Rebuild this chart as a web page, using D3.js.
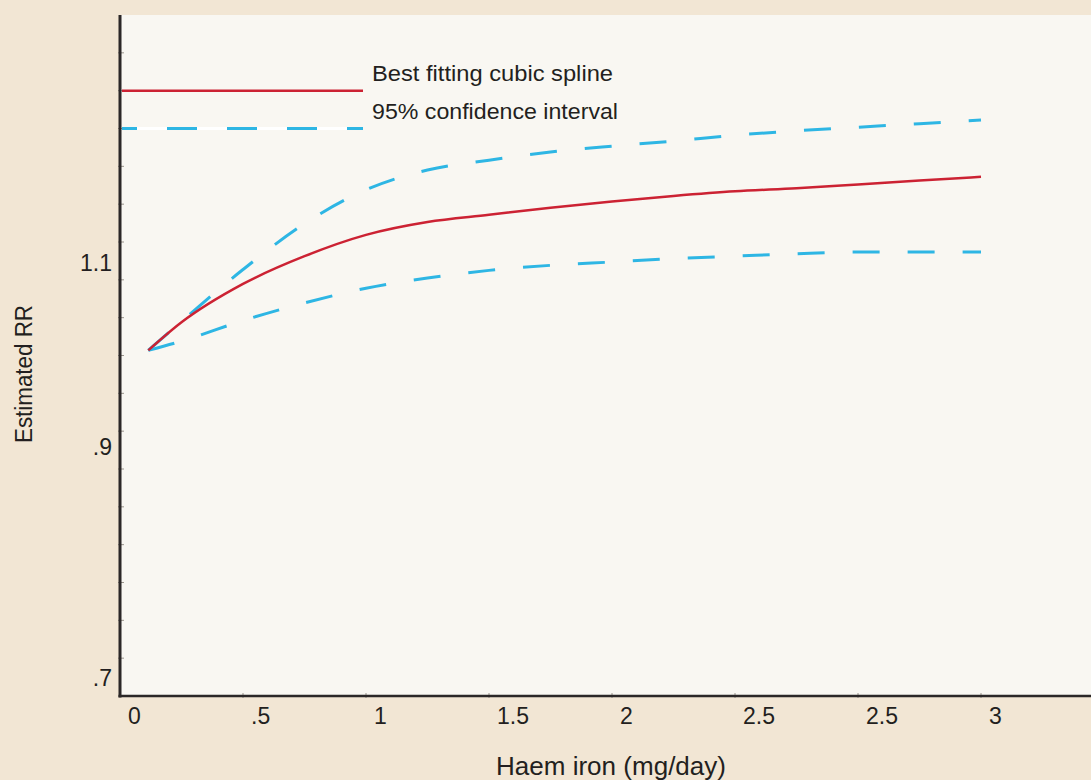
<!DOCTYPE html>
<html>
<head>
<meta charset="utf-8">
<script src="https://cdn.jsdelivr.net/npm/d3@7"></script>
<style>
  html, body { margin: 0; padding: 0; background: #f2e6d4; }
  svg { display: block; }
  text { font-family: "Liberation Sans", Arial, sans-serif; fill: #231f20; }
</style>
</head>
<body>
<svg id="chart" width="1091" height="780"></svg>
<script>
// ---- data ----
const xValues   = [0.115, 0.25, 0.5, 0.75, 1.0, 1.25, 1.5, 1.75, 2.0, 2.25, 2.5, 2.75, 3.0, 3.25, 3.5];
const splineRR  = [1.000, 1.031, 1.075, 1.108, 1.134, 1.150, 1.159, 1.168, 1.176, 1.183, 1.189, 1.193, 1.198, 1.203, 1.208];
const upperCI   = [1.000, 1.032, 1.092, 1.148, 1.191, 1.217, 1.230, 1.241, 1.249, 1.256, 1.264, 1.270, 1.275, 1.280, 1.285];
const lowerCI   = [1.000, 1.010, 1.033, 1.053, 1.070, 1.082, 1.091, 1.097, 1.101, 1.105, 1.108, 1.111, 1.113, 1.113, 1.113];
const xTickValues = [0, 0.5, 1, 1.5, 2, 2.5, 3, 3.5];
const xTickLabels = ["0", ".5", "1", "1.5", "2", "2.5", "2.5", "3"];
const yTickValues = [1.1, 0.9, 0.7];
const yTickLabels = ["1.1", ".9", ".7"];
const legendLabels = ["Best fitting cubic spline", "95% confidence interval"];
const xTitle = "Haem iron (mg/day)";
const yTitle = "Estimated RR";

// ---- layout ----
const W = 1091, H = 780;
const mLeft = 120, mRight = 1091, mTop = 15, mBottom = 696;
const red = "#cc2233", blue = "#2eb6e4", axisCol = "#2b2727";

const svg = d3.select("#chart");
svg.append("rect").attr("width", W).attr("height", H).attr("fill", "#f2e6d4");
svg.append("rect").attr("x", mLeft).attr("y", mTop).attr("width", mRight - mLeft).attr("height", mBottom - mTop).attr("fill", "#f9f7f2");

const x = d3.scaleLinear().domain([0, 3.5]).range([mLeft, mLeft + 123 * 7]);
const y = d3.scaleLog().domain([0.6864, 1.4407]).range([mBottom, mTop]);

// minor tick decoration (evenly spaced in the picture)
const tickScaleY = d3.scaleLinear().domain([0, 18]).range([mBottom, mTop]);
const yMinor = d3.range(1, 18);
svg.append("g").selectAll("line").data(yMinor).join("line")
  .attr("x1", mLeft - 2).attr("x2", mLeft + 4)
  .attr("y1", d => tickScaleY(d)).attr("y2", d => tickScaleY(d))
  .attr("stroke", "#9a948c").attr("stroke-width", 1);

const xMinor = [0.5, 1, 1.5, 2, 2.5, 3, 3.5];
svg.append("g").selectAll("line").data(xMinor).join("line")
  .attr("x1", d => x(d)).attr("x2", d => x(d))
  .attr("y1", mBottom - 3).attr("y2", mBottom + 2)
  .attr("stroke", "#9a948c").attr("stroke-width", 1);

// legend
const leg = svg.append("g");
leg.append("line").attr("x1", mLeft + 2).attr("x2", 363).attr("y1", tickScaleY(16)).attr("y2", tickScaleY(16))
  .attr("stroke", red).attr("stroke-width", 2.5);
leg.append("line").attr("x1", mLeft + 2).attr("x2", 363).attr("y1", tickScaleY(15)).attr("y2", tickScaleY(15))
  .attr("stroke", "#ffffff").attr("stroke-width", 3);
leg.append("line").attr("x1", mLeft + 2).attr("x2", 363).attr("y1", tickScaleY(15)).attr("y2", tickScaleY(15))
  .attr("stroke", blue).attr("stroke-width", 3).attr("stroke-dasharray", "15,30,30,30,30,30,30,30,30,30");
const legendWidths = [241, 246];
leg.selectAll("text").data(legendLabels).join("text")
  .attr("x", 372).attr("y", (d, i) => 81 + i * 37.5)
  .attr("font-size", 22)
  .attr("textLength", (d, i) => legendWidths[i]).attr("lengthAdjust", "spacingAndGlyphs")
  .text(d => d);

// lines
const line = d3.line().x(d => x(d[0])).y(d => y(d[1])).curve(d3.curveMonotoneX);
const zip = arr => xValues.map((v, i) => [v, arr[i]]);

svg.append("path").datum(zip(upperCI)).attr("d", line)
  .attr("fill", "none").attr("stroke", blue).attr("stroke-width", 3).attr("stroke-dasharray", "27,28");
svg.append("path").datum(zip(lowerCI)).attr("d", line)
  .attr("fill", "none").attr("stroke", blue).attr("stroke-width", 3).attr("stroke-dasharray", "27,28");
svg.append("path").datum(zip(splineRR)).attr("d", line)
  .attr("fill", "none").attr("stroke", red).attr("stroke-width", 2.5);

// axes lines
svg.append("line").attr("x1", mLeft).attr("x2", mLeft).attr("y1", mTop).attr("y2", mBottom + 1.5)
  .attr("stroke", axisCol).attr("stroke-width", 3);
svg.append("line").attr("x1", mLeft - 1.5).attr("x2", mRight).attr("y1", mBottom).attr("y2", mBottom)
  .attr("stroke", axisCol).attr("stroke-width", 2.5);

// tick labels
svg.append("g").selectAll("text").data(xTickValues).join("text")
  .attr("x", d => x(d) + 8).attr("y", 724)
  .attr("font-size", 23).attr("text-anchor", "start")
  .text((d, i) => xTickLabels[i]);

svg.append("g").selectAll("text").data(yTickValues).join("text")
  .attr("x", 112).attr("y", d => y(d)).attr("dy", "0.36em")
  .attr("font-size", 23).attr("text-anchor", "end")
  .text((d, i) => yTickLabels[i]);

// axis titles
svg.append("text").attr("x", 496).attr("y", 775)
  .attr("font-size", 26).attr("textLength", 230).attr("lengthAdjust", "spacingAndGlyphs").text(xTitle);
svg.append("text").attr("transform", "translate(32,443) rotate(-90)")
  .attr("font-size", 23).attr("textLength", 138).attr("lengthAdjust", "spacingAndGlyphs").text(yTitle);
</script>
</body>
</html>
